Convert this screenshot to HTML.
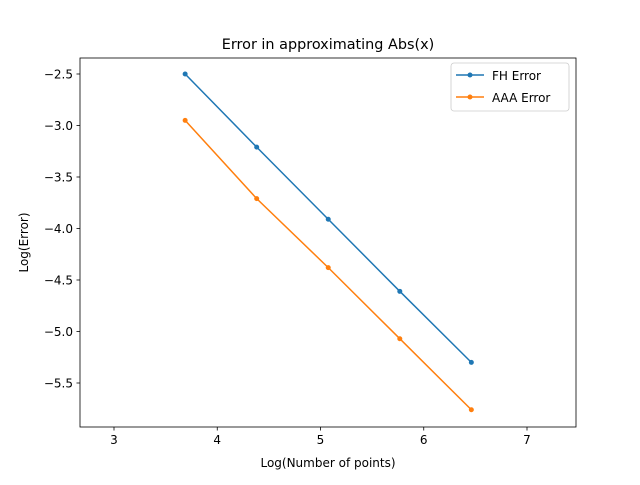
<!DOCTYPE html>
<html><head><meta charset="utf-8"><style>
body{margin:0;background:#fff;}
text{font-family:"DejaVu Sans","Liberation Sans",sans-serif;}
</style></head><body>
<svg id="chart" width="640" height="480" viewBox="0 0 640 480">
<rect width="640" height="480" fill="#fff"/>
<text x="328" y="49" text-anchor="middle" font-size="14.4">Error in approximating Abs(x)</text>
<g id="plot"></g>
<rect x="80" y="58" width="496" height="369" fill="none" stroke="#000" stroke-width="0.8"/>
<text x="328" y="467" text-anchor="middle" font-size="12">Log(Number of points)</text>
<text transform="translate(28,242.5) rotate(-90)" text-anchor="middle" font-size="12">Log(Error)</text>
<g>
<rect x="451" y="63" width="118" height="48" rx="3" fill="#fff" fill-opacity="0.8" stroke="#ccc" stroke-width="0.8"/>
<line x1="456" y1="75" x2="484" y2="75" stroke="#1f77b4" stroke-width="1.5"/>
<circle cx="470" cy="75" r="2.5" fill="#1f77b4"/>
<text x="492" y="80" font-size="12">FH Error</text>
<line x1="456" y1="97" x2="484" y2="97" stroke="#ff7f0e" stroke-width="1.5"/>
<circle cx="470" cy="97" r="2.5" fill="#ff7f0e"/>
<text x="492" y="102" font-size="12">AAA Error</text>
</g>
</svg>
<script>
const xValues=[3.689,4.382,5.075,5.768,6.461];
const fhErrors=[-2.50,-3.21,-3.91,-4.61,-5.30];
const aaaErrors=[-2.95,-3.71,-4.38,-5.07,-5.76];
const xTicks=[3,4,5,6,7];
const yTicks=[-2.5,-3.0,-3.5,-4.0,-4.5,-5.0,-5.5];
const yTickLabels=["−2.5","−3.0","−3.5","−4.0","−4.5","−5.0","−5.5"];
const L=80,R=576,T=58,B=427;
const xMin=2.6707,xMax=7.4746,yMax=-2.3447,yMin=-5.9272;
function sx(v){return L+(v-xMin)/(xMax-xMin)*(R-L);}
function sy(v){return T+(yMax-v)/(yMax-yMin)*(B-T);}
const NS="http://www.w3.org/2000/svg";
const g=document.getElementById('plot');
function mk(tag,attrs){const e=document.createElementNS(NS,tag);for(const k in attrs)e.setAttribute(k,attrs[k]);g.appendChild(e);return e;}
xTicks.forEach(t=>{
 const l=mk('line',{x1:sx(t),x2:sx(t),y1:B,y2:B+3.5,stroke:'#000','stroke-width':0.8});
 
 
 const tx=mk('text',{x:sx(t),y:B+17,'text-anchor':'middle','font-size':12});
 tx.textContent=t;
 
 
});
yTicks.forEach((t,i)=>{
 const l=mk('line',{x1:L-3.5,x2:L,y1:sy(t),y2:sy(t),stroke:'#000','stroke-width':0.8});
 
 
 const tx=mk('text',{x:L-7,y:sy(t)+4.5,'text-anchor':'end','font-size':12});
 tx.textContent=yTickLabels[i];
 
 
});
function series(vals,color,name){
 const p=mk('polyline',{points:xValues.map((x,i)=>sx(x)+','+sy(vals[i])).join(' '),fill:'none',stroke:color,'stroke-width':1.5});
 
 
 xValues.forEach((x,i)=>{
  const c=mk('circle',{cx:sx(x),cy:sy(vals[i]),r:2.5,fill:color});
  
  
 });
}
series(fhErrors,'#1f77b4','fh-error');
series(aaaErrors,'#ff7f0e','aaa-error');
</script>
</body></html>
